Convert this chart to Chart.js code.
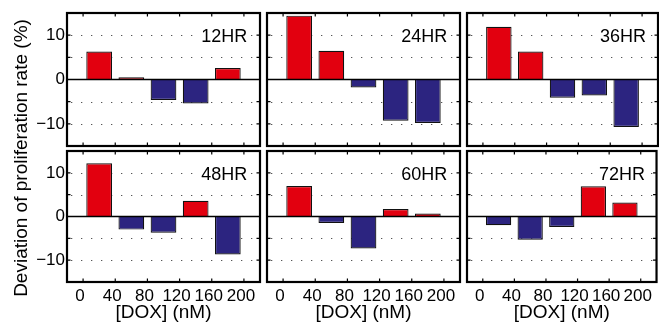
<!DOCTYPE html>
<html><head><meta charset="utf-8">
<script src="https://cdn.jsdelivr.net/npm/chart.js@4.4.1/dist/chart.umd.min.js"></script>
<style>
html,body{margin:0;padding:0;background:#fff;}
#wrap{position:relative;width:659px;height:324px;overflow:hidden;background:#fff;}
canvas{position:absolute;left:0;top:0;}
.lbl{position:absolute;font-family:'Liberation Sans',Arial,Helvetica,sans-serif;font-size:18px;line-height:18px;background:#fff;color:#000;white-space:nowrap;}
#ytitle{position:absolute;width:300px;height:22px;line-height:22px;text-align:center;font-family:'Liberation Sans',Arial,Helvetica,sans-serif;font-size:19px;color:#000;white-space:nowrap;left:-129px;top:146.5px;transform:rotate(-90deg);}
</style></head><body>
<div id="wrap">
<canvas id="c0" width="659" height="324"></canvas>
<canvas id="c1" width="659" height="324"></canvas>
<canvas id="c2" width="659" height="324"></canvas>
<canvas id="c3" width="659" height="324"></canvas>
<canvas id="c4" width="659" height="324"></canvas>
<canvas id="c5" width="659" height="324"></canvas>
<div id="ytitle">Deviation of proliferation rate (%)</div>
</div>
<script>
// ---- data ----
const doses = [20, 60, 100, 140, 180];
const xTickValues = [0, 40, 80, 120, 160, 200];
const yTickValues = [-10, 0, 10];
const yGridValues = [-10, -5, 5, 10];
const panelLabels = ['12HR', '24HR', '36HR', '48HR', '60HR', '72HR'];
const dev12 = [6.3, 0.5, -4.6, -5.4, 2.6];
const dev24 = [14.4, 6.5, -1.8, -9.3, -9.8];
const dev36 = [11.9, 6.3, -4.1, -3.6, -10.7];
const dev48 = [12.2, -3.0, -3.7, 3.6, -8.7];
const dev60 = [7.0, -1.5, -7.3, 1.7, 0.7];
const dev72 = [-2.0, -5.3, -2.4, 6.9, 3.2];
const series = [dev12, dev24, dev36, dev48, dev60, dev72];
const xTitle = '[DOX] (nM)';

// ---- layout ----
const W = 659, H = 324;
const cols = [[67, 260], [267, 460], [467, 658]];
const rows = [[13, 146], [151, 282]];
const RED = '#e2000f', BLUE = '#2c2480';
const FONT = "'Liberation Sans', Arial, Helvetica, sans-serif";

const framePlugin = {
  id: 'frame',
  beforeDatasetsDraw(chart) {
    const {ctx, chartArea: a, scales: {y}} = chart;
    ctx.save();
    ctx.strokeStyle = '#555';
    ctx.lineWidth = 1;
    ctx.setLineDash([1.3, 8.7]);
    yGridValues.forEach(v => {
      const py = Math.round(y.getPixelForValue(v)) + 0.5;
      ctx.beginPath();
      ctx.moveTo(a.left + 4, py);
      ctx.lineTo(a.right, py);
      ctx.stroke();
    });
    ctx.restore();
  },
  afterDatasetsDraw(chart) {
    const {ctx, chartArea: a, scales: {x, y}} = chart;
    ctx.save();
    ctx.strokeStyle = '#000';
    ctx.lineWidth = 1.6;
    const py0 = y.getPixelForValue(0);
    ctx.beginPath(); ctx.moveTo(a.left, py0); ctx.lineTo(a.right, py0); ctx.stroke();
    ctx.lineWidth = 1.2;
    [-10, -5, 0, 5, 10].forEach(v => {
      const py = y.getPixelForValue(v);
      ctx.beginPath();
      ctx.moveTo(a.left, py); ctx.lineTo(a.left + 3.5, py);
      ctx.moveTo(a.right, py); ctx.lineTo(a.right - 3.5, py);
      ctx.stroke();
    });
    xTickValues.forEach(v => {
      const px = x.getPixelForValue(v);
      ctx.beginPath();
      ctx.moveTo(px, a.top); ctx.lineTo(px, a.top + 3.5);
      ctx.moveTo(px, a.bottom); ctx.lineTo(px, a.bottom - 3.5);
      ctx.stroke();
    });
    ctx.lineWidth = 2.2;
    ctx.strokeRect(a.left, a.top, a.right - a.left, a.bottom - a.top);
    ctx.restore();
  }
};

function fmt(v) { return v < 0 ? '\u2212' + Math.abs(v) : String(v); }

series.forEach((vals, i) => {
  const c = i % 3, r = Math.floor(i / 3);
  const isLeft = c === 0, isBottom = r === 1;
  const [L, R] = cols[c], [T, B] = rows[r];
  const chart = new Chart(document.getElementById('c' + i), {
    type: 'bar',
    data: {
      datasets: [{
        data: doses.map((d, k) => ({x: d, y: vals[k]})),
        backgroundColor: ctx => (ctx.raw && ctx.raw.y >= 0) ? RED : BLUE,
        borderColor: '#111',
        borderWidth: 1.2,
        barPercentage: 0.8,
        categoryPercentage: 1.0
      }]
    },
    options: {
      responsive: false,
      animation: false,
      events: [],
      layout: {padding: {left: isLeft ? 0 : L, right: W - R, top: T, bottom: isBottom ? 0 : H - B}},
      plugins: {legend: {display: false}, tooltip: {enabled: false}},
      scales: {
        x: {
          type: 'linear', min: -20, max: 220, offset: false,
          display: isBottom,
          afterBuildTicks: s => { s.ticks = xTickValues.map(v => ({value: v})); },
          afterFit: s => { if (isBottom) s.height = H - B; },
          grid: {display: false, drawTicks: false},
          border: {display: false},
          ticks: {font: {family: FONT, size: 17}, color: '#000', padding: 4, maxRotation: 0, autoSkip: false, labelOffset: -3},
          title: {display: true, text: xTitle, font: {family: FONT, size: 19}, color: '#000', padding: {top: 0, bottom: 0}}
        },
        y: {
          type: 'linear', min: -15, max: 15,
          display: isLeft,
          afterBuildTicks: s => { s.ticks = yTickValues.map(v => ({value: v})); },
          afterFit: s => { if (isLeft) s.width = L; },
          grid: {display: false, drawTicks: false},
          border: {display: false},
          ticks: {font: {family: FONT, size: 17}, color: '#000', padding: 2, callback: v => fmt(v)}
        }
      }
    },
    plugins: [framePlugin]
  });
  const d = document.createElement('div');
  d.className = 'lbl';
  d.textContent = panelLabels[i];
  d.style.left = chart.scales.x.getPixelForValue(147) + 'px';
  d.style.top = (chart.scales.y.getPixelForValue(10) - 8) + 'px';
  document.getElementById('wrap').appendChild(d);
});
</script>
</body></html>
